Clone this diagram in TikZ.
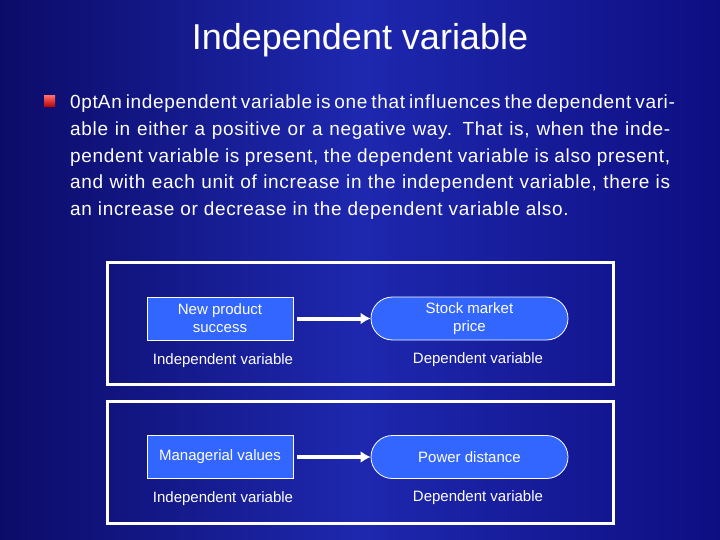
\documentclass[tikz,border=0pt]{standalone}
\usepackage{fontspec}
\setmainfont{Liberation Sans}
\usetikzlibrary{shapes.misc,arrows.meta}
\definecolor{bgblue}{RGB}{14,14,130}
\definecolor{bgmid}{RGB}{30,40,175}
\definecolor{boxblue}{RGB}{51,102,255}
\tikzset{
  frame/.style={draw=white,line width=3pt},
  rectnode/.style={draw=white,fill=boxblue,line width=0.8pt,minimum width=146pt,minimum height=43pt,text=white,font=\fontsize{15}{18}\selectfont,align=center,inner sep=0pt},
  ovalnode/.style={draw=white,fill=boxblue,line width=0.8pt,rounded rectangle,minimum width=197pt,minimum height=43pt,text=white,font=\fontsize{15}{18}\selectfont,align=center,inner sep=0pt},
  lbl/.style={text=white,font=\fontsize{15}{18}\selectfont},
  arr/.style={draw=white,line width=4pt,-{Latex[length=10pt,width=12pt]}}
}
\begin{document}
\begin{tikzpicture}[x=1pt,y=-1pt]
\useasboundingbox (0,0) rectangle (720,540);
\shade[left color=bgblue!80!black,right color=bgblue,middle color=bgmid] (0,0) rectangle (720,540);
\node[text=white,font=\fontsize{36}{40}\selectfont] (title) at (360,40) {Independent variable};
\shade[top color=red!60!white,bottom color=red!70!black] (44,96) rectangle (55,107);
\node[coordinate] (bullet) at (50,101) {};
\node[anchor=north west,text=white,text width=600pt,align=justify,inner sep=0pt,font=\fontsize{19}{26.6}\selectfont\addfontfeature{LetterSpace=3.5}\hyphenpenalty=10000\exhyphenpenalty=10000] (para) at (70,95)
{An independent variable is one that influences the dependent variable in either a positive or a negative way. That is, when the independent variable is present, the dependent variable is also present, and with each unit of increase in the independent variable, there is an increase or decrease in the dependent variable also.};
\draw[frame] (107,262) rectangle (613,384);
\draw[frame] (107,401) rectangle (613,523);
\node[rectnode] (a1) at (220,318.5) {New product\\success};
\node[ovalnode] (b1) at (469.5,318.5) {Stock market\\price};
\draw[arr] ([xshift=4pt]a1.east) -- (b1.west);
\node[lbl] (la1) at (223,361) {Independent variable};
\node[lbl] (lb1) at (478,360) {Dependent variable};
\node[rectnode] (a2) at (220,457) {Managerial values};
\node[ovalnode] (b2) at (469.5,457) {Power distance};
\draw[arr] ([xshift=4pt]a2.east) -- (b2.west);
\node[lbl] (la2) at (223,499) {Independent variable};
\node[lbl] (lb2) at (478,498) {Dependent variable};
\end{tikzpicture}
\end{document}
